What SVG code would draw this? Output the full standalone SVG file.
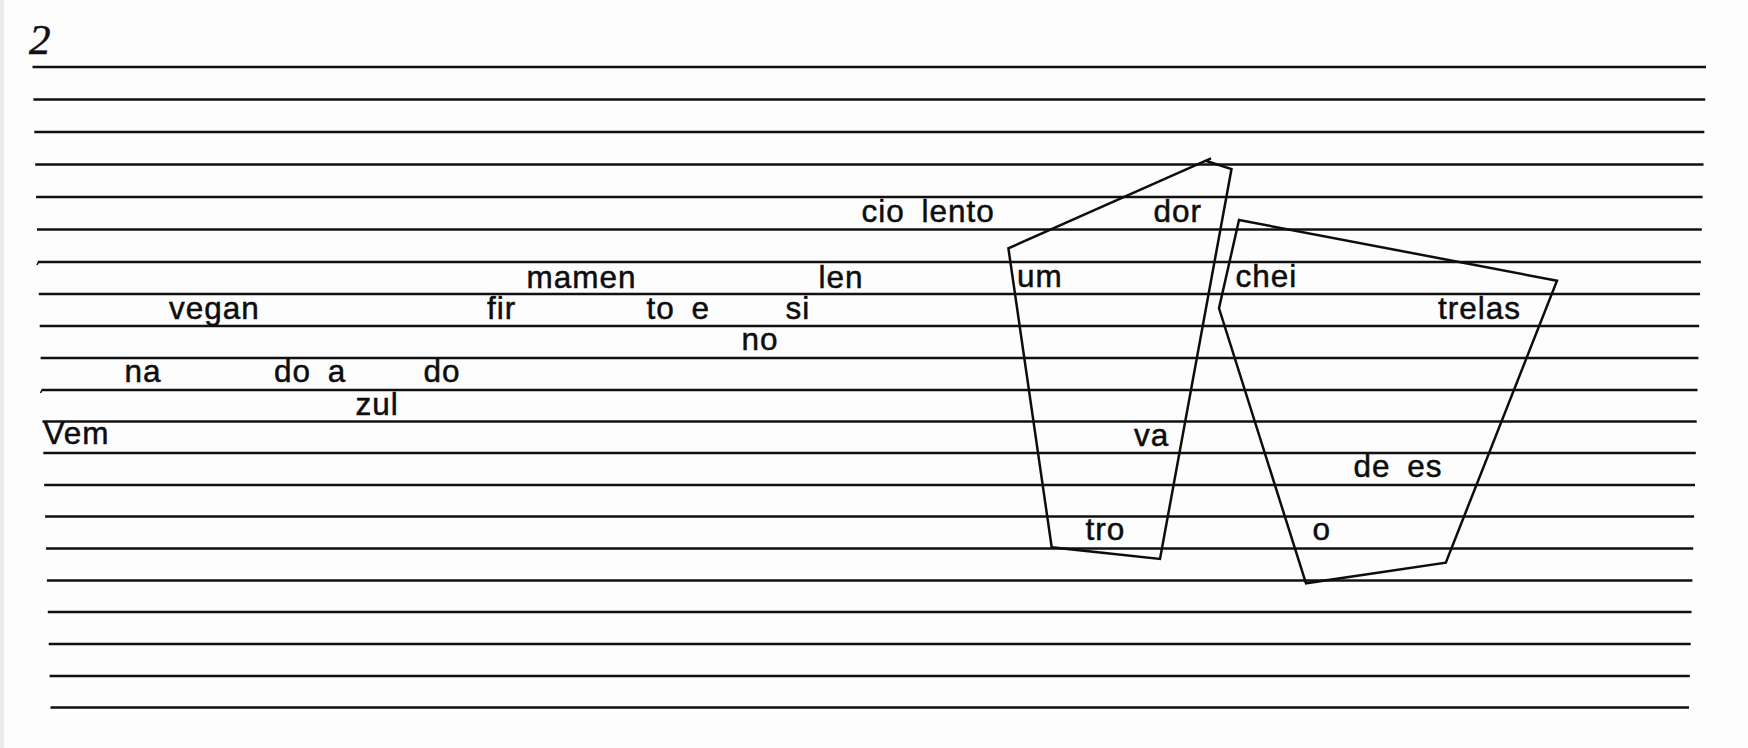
<svg xmlns="http://www.w3.org/2000/svg" width="1748" height="748" viewBox="0 0 1748 748">
<style>
.rule{stroke:#111;stroke-width:2.7;fill:none;stroke-linecap:butt}
.tick{stroke:#111;stroke-width:1.6;fill:none}
.poly{stroke:#0d0d0d;stroke-width:2.5;fill:none;stroke-linejoin:miter}
.w{font-family:"Liberation Sans",Arial,Helvetica,sans-serif;font-size:31.5px;letter-spacing:1px;word-spacing:7px;fill:#0d0d0d;stroke:#0d0d0d;stroke-width:0.5px}
.num{font-family:"Liberation Serif","Times New Roman",serif;font-style:italic;font-size:43px;fill:#111;stroke:#111;stroke-width:0.6px}
</style>
<rect width="1748" height="748" fill="#fdfdfd"/>
<rect width="4" height="748" fill="#e9ecef"/>
<g id="page-number"><text class="num" x="29" y="53.5">2</text></g>
<g id="ruled-lines">
<line class="rule" x1="32.5" y1="67" x2="1706" y2="67"/>
<line class="rule" x1="33.4" y1="99.5" x2="1705.2" y2="99.5"/>
<line class="rule" x1="34.3" y1="132" x2="1704.3" y2="132"/>
<line class="rule" x1="35.2" y1="164.5" x2="1703.5" y2="164.5"/>
<line class="rule" x1="36.1" y1="197" x2="1702.6" y2="197"/>
<line class="rule" x1="37" y1="229.5" x2="1701.8" y2="229.5"/>
<line class="rule" x1="37.9" y1="262" x2="1700.9" y2="262"/>
<line class="rule" x1="38.8" y1="294" x2="1700" y2="294"/>
<line class="rule" x1="39.7" y1="326" x2="1699.2" y2="326"/>
<line class="rule" x1="40.6" y1="358" x2="1698.4" y2="358"/>
<line class="rule" x1="41.5" y1="390" x2="1697.5" y2="390"/>
<line class="rule" x1="42.4" y1="421.5" x2="1696.7" y2="421.5"/>
<line class="rule" x1="43.3" y1="453" x2="1695.8" y2="453"/>
<line class="rule" x1="44.2" y1="485" x2="1695" y2="485"/>
<line class="rule" x1="45.1" y1="516.5" x2="1694.1" y2="516.5"/>
<line class="rule" x1="46" y1="548.5" x2="1693.2" y2="548.5"/>
<line class="rule" x1="46.9" y1="580.5" x2="1692.4" y2="580.5"/>
<line class="rule" x1="47.8" y1="612" x2="1691.5" y2="612"/>
<line class="rule" x1="48.7" y1="644" x2="1690.7" y2="644"/>
<line class="rule" x1="49.6" y1="676" x2="1689.8" y2="676"/>
<line class="rule" x1="50.5" y1="707.5" x2="1689" y2="707.5"/>
<path class="tick" d="M38.5 262 l-1.5 3"/>
<path class="tick" d="M42 390 l-1.5 3"/>
</g>
<g id="shapes">
<polyline class="poly" points="1206.5,161 1231.5,169 1160,559 1051.7,547.3 1008.4,248.3 1211,158.3"/>
<polygon class="poly" points="1239,220 1557,280.7 1445.8,562.7 1306,583.3 1219,308.3"/>
</g>
<g id="words">
<text class="w" x="861.5" y="222">cio lento</text>
<text class="w" x="1153.5" y="222">dor</text>
<text class="w" x="526.5" y="288">mamen</text>
<text class="w" x="818.5" y="288">len</text>
<text class="w" x="1017" y="287">um</text>
<text class="w" x="1235.5" y="287">chei</text>
<text class="w" x="169" y="318.5">vegan</text>
<text class="w" x="487" y="318.5">fir</text>
<text class="w" x="646.5" y="319">to e</text>
<text class="w" x="785.5" y="319">si</text>
<text class="w" x="1438" y="318.5">trelas</text>
<text class="w" x="741.5" y="350">no</text>
<text class="w" x="124.5" y="382">na</text>
<text class="w" x="274" y="382">do a</text>
<text class="w" x="423.5" y="382">do</text>
<text class="w" x="355.5" y="415">zul</text>
<text class="w" x="43.5" y="444">Vem</text>
<text class="w" x="1134" y="446">va</text>
<text class="w" x="1353.5" y="477">de es</text>
<text class="w" x="1085.5" y="540">tro</text>
<text class="w" x="1312.5" y="540">o</text>
</g>
</svg>
